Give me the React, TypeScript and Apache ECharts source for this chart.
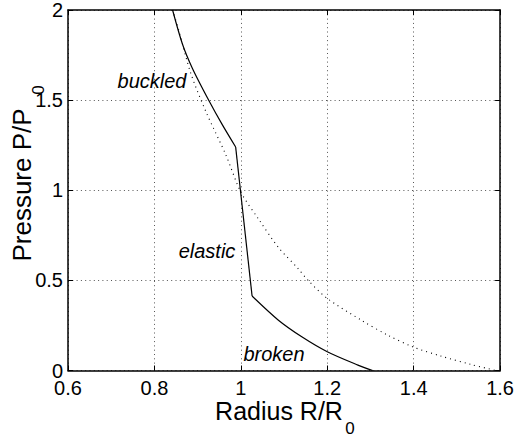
import React, { useEffect, useRef } from "react";
import * as echarts from "echarts";

const xTicks = [0.6, 0.8, 1.0, 1.2, 1.4, 1.6];
const yTicks = [0, 0.5, 1, 1.5, 2];

// solid curve (R, P), in three regimes
const buckledR = [0.842, 0.865, 0.888, 0.926, 0.957, 0.988];
const buckledP = [2.0, 1.81, 1.676, 1.498, 1.364, 1.24];
const elasticR = [0.988, 1.026];
const elasticP = [1.24, 0.413];
const brokenR = [1.026, 1.087, 1.141, 1.2, 1.271, 1.305];
const brokenP = [0.413, 0.279, 0.187, 0.104, 0.03, 0.0];

// dotted curve (R, P)
const dotR = [0.842, 0.856, 0.884, 0.919, 0.965, 1.0, 1.041, 1.087, 1.133, 1.156, 1.2, 1.279, 1.34, 1.398, 1.463, 1.532, 1.59];
const dotP = [2.0, 1.89, 1.65, 1.437, 1.198, 0.99, 0.84, 0.683, 0.564, 0.499, 0.4, 0.279, 0.196, 0.131, 0.08, 0.034, 0.0];

const labels = ["buckled", "elastic", "broken"];

const FONT = "Liberation Sans, Arial, Helvetica, sans-serif";

export default function App() {
  const ref = useRef<HTMLDivElement>(null);
  useEffect(() => {
    if (!ref.current) return;
    const chart = echarts.init(ref.current, null, { renderer: "svg" });
    const gridLine = { show: true, lineStyle: { color: "#555", width: 1, type: [1, 3.3] as any } };
    const axisLine = { show: true, onZero: false, lineStyle: { color: "#000", width: 1.5 } };
    const tick = { show: true, inside: true, length: 5, lineStyle: { color: "#000", width: 1 } };
    const solidStyle = { color: "#000", width: 1.2 };
    const pairs = (rs: number[], ps: number[]) => rs.map((r, i) => [r, ps[i]]);
    const lbl = (text: string, x: number, y: number) => ({
      type: "text", x, y,
      style: { text, fontSize: 20, lineHeight: 20, fontStyle: "italic", fontFamily: FONT, fill: "#000", textAlign: "center", textVerticalAlign: "middle" },
    });
    chart.setOption({
      animation: false,
      backgroundColor: "#fff",
      grid: { left: 68, top: 8, width: 435, height: 362.5, containLabel: false },
      xAxis: [
        {
          type: "value", min: 0.6, max: 1.6, interval: 0.2, position: "bottom",
          axisLine, axisTick: tick, splitLine: gridLine,
          axisLabel: { color: "#000", fontSize: 20, lineHeight: 16, fontFamily: FONT, margin: 9,
            formatter: (v: number) => String(Math.round(v * 10) / 10) },
        },
        {
          type: "value", min: 0.6, max: 1.6, interval: 0.2, position: "top",
          axisLine, axisTick: tick, splitLine: { show: false }, axisLabel: { show: false },
        },
      ],
      yAxis: [
        {
          type: "value", min: 0, max: 2, interval: 0.5, position: "left",
          axisLine, axisTick: tick, splitLine: gridLine,
          axisLabel: { color: "#000", fontSize: 20, lineHeight: 12, fontFamily: FONT, margin: 5, padding: [3, 0, 0, 0] },
        },
        {
          type: "value", min: 0, max: 2, interval: 0.5, position: "right",
          axisLine, axisTick: tick, splitLine: { show: false }, axisLabel: { show: false },
        },
      ],
      series: [
        {
          type: "line", name: "theory", data: pairs(dotR, dotP), smooth: 0.3,
          showSymbol: false, symbol: "none",
          lineStyle: { color: "#000", width: 1.1, type: [1, 4] as any }, z: 3,
        },
        { type: "line", name: "buckled", data: pairs(buckledR, buckledP), smooth: 0.3, showSymbol: false, symbol: "none", lineStyle: solidStyle, z: 4 },
        { type: "line", name: "elastic", data: pairs(elasticR, elasticP), showSymbol: false, symbol: "none", lineStyle: solidStyle, z: 4 },
        { type: "line", name: "broken", data: pairs(brokenR, brokenP), smooth: 0.3, showSymbol: false, symbol: "none", lineStyle: solidStyle, z: 4 },
      ],
      graphic: [
        lbl(labels[0], 152, 81),
        lbl(labels[1], 207, 251),
        lbl(labels[2], 274, 354),
        { type: "text", x: 279, y: 411, style: { text: "Radius R/R", fontSize: 25, lineHeight: 18, fontFamily: FONT, fill: "#000", textAlign: "center", textVerticalAlign: "middle" } },
        { type: "text", x: 350, y: 428, style: { text: "0", fontSize: 17, lineHeight: 14, fontFamily: FONT, fill: "#000", textAlign: "center", textVerticalAlign: "middle" } },
        { type: "text", x: 22, y: 185, rotation: Math.PI / 2, style: { text: "Pressure P/P", fontSize: 26, lineHeight: 20, fontFamily: FONT, fill: "#000", textAlign: "center", textVerticalAlign: "middle" } },
        { type: "text", x: 38, y: 90, rotation: Math.PI / 2, style: { text: "0", fontSize: 17, lineHeight: 14, fontFamily: FONT, fill: "#000", textAlign: "center", textVerticalAlign: "middle" } },
      ],
    });
    return () => chart.dispose();
  }, []);
  return <div ref={ref} style={{ position: "fixed", left: 0, top: 0, width: 517, height: 436 }} />;
}
